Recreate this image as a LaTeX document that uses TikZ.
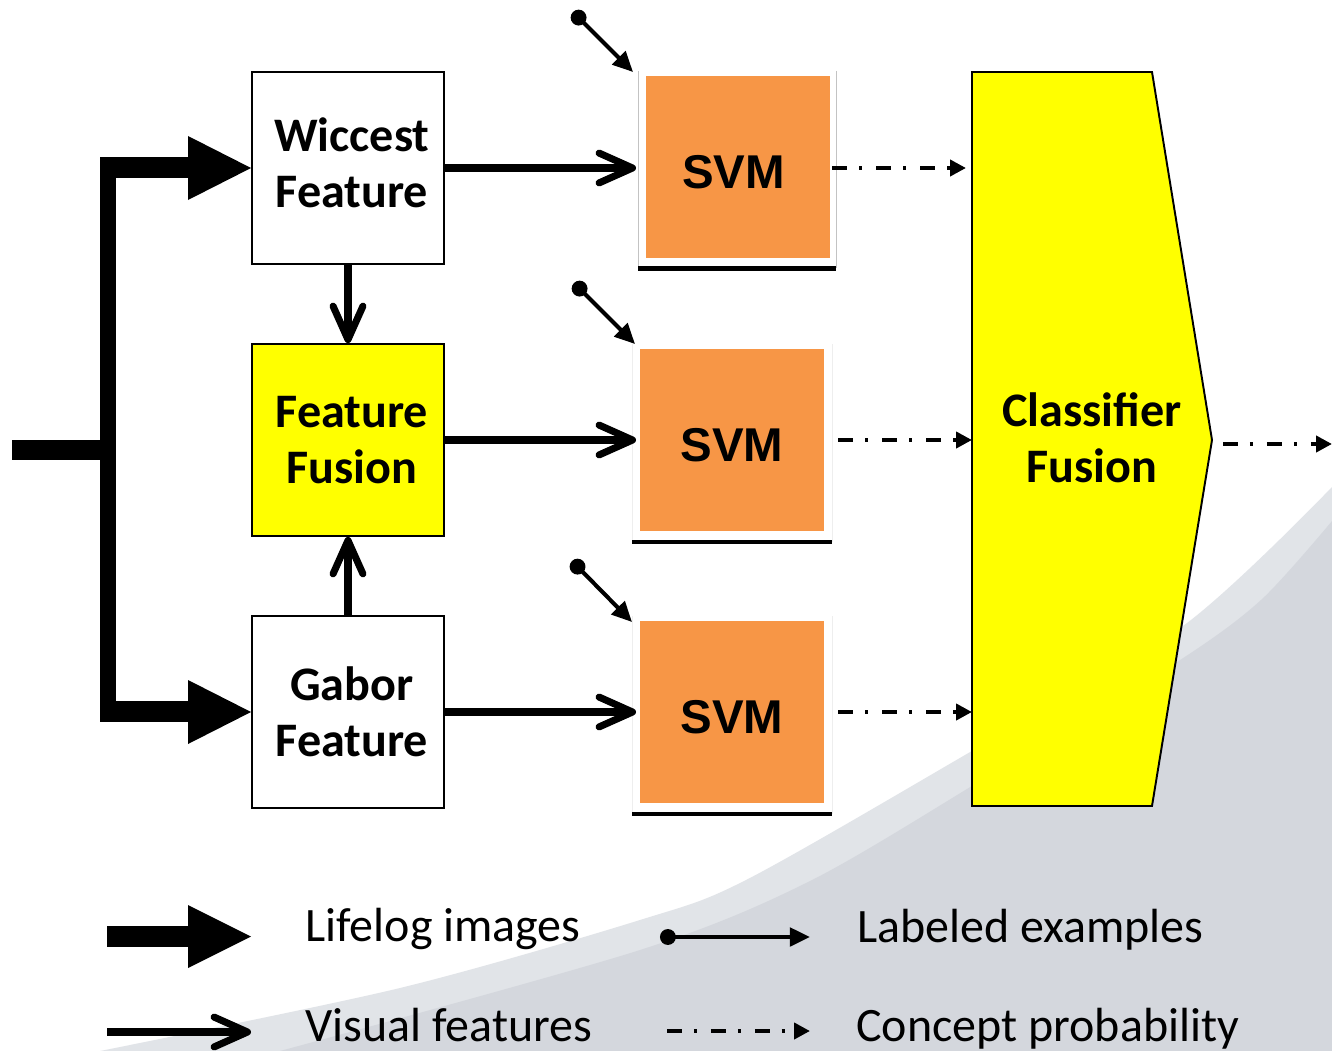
\documentclass[tikz,border=0pt]{standalone}
\usepackage{fontspec}
\setmainfont{Carlito}
\newfontfamily\svmfont{Liberation Sans}
\usetikzlibrary{arrows.meta,calc}
\definecolor{svmorange}{HTML}{F79646}
\definecolor{fusyellow}{HTML}{FFFF00}
\definecolor{bglight}{RGB}{225,228,232}
\definecolor{bgdark}{RGB}{212,215,221}
\definecolor{framegrey}{RGB}{195,195,195}
\definecolor{framefaint}{RGB}{238,238,238}
\newcommand\rsh{\hspace*{4.5pt}}
\begin{document}
\begin{tikzpicture}[x=0.02cm,y=-0.02cm,
  featbox/.style={draw=black, line width=1.1pt, minimum width=3.84cm, minimum height=3.84cm,
    inner sep=0pt, align=center, font=\fontsize{27.4}{32}\selectfont\bfseries},
  svmbox/.style={fill=svmorange, minimum width=3.68cm, minimum height=3.66cm, inner sep=0pt,
    text height=25pt, text depth=0pt,
    font=\svmfont\fontsize{27}{32}\selectfont\bfseries},
  boldtext/.style={align=center, inner sep=0pt, font=\fontsize{27.4}{32}\selectfont\bfseries},
  legtext/.style={inner sep=0pt, anchor=base west, font=\fontsize{27.3}{32}\selectfont},
  featarrow/.style={line width=4pt, -{Straight Barb[length=19pt,width=17pt,round]}},
  probarrow/.style={line width=2.3pt, dash pattern=on 8.5pt off 6.8pt on 1.7pt off 8pt,
    -{Triangle[length=9pt,width=9pt]}},
  labarrow/.style={line width=2.3pt, {Circle[length=9pt]}-{Triangle[length=11.5pt,width=10.5pt]}},
  underl/.style={line width=2.3pt}
]
\useasboundingbox (0,0) rectangle (1332,1051);
\fill[white] (0,0) rectangle (1332,1051);
% background swoosh
\fill[bglight] plot[smooth] coordinates {(100,1051) (400,988) (640,920) (746,880) (965,755) (1183,626) (1332,487)} -- (1332,1051) -- cycle;
\fill[bgdark] plot[smooth] coordinates {(280,1051) (640,950) (812,880) (995,772) (1177,662) (1261,600) (1332,521)} -- (1332,1051) -- cycle;

% feature boxes
\node[featbox, fill=white, text depth=6pt] (wic) at (348,168) {\rsh Wiccest\\\rsh Feature};
\node[featbox, fill=fusyellow] (fus) at (348,440) {\rsh Feature\\\rsh Fusion};
\node[featbox, fill=white] (gab) at (348,712) {\rsh Gabor\\\rsh Feature};

% SVM frames
\fill[white] (638,71) rectangle (836,268);
\draw[framegrey, line width=0.5pt] (638,71) -- (638,268) (836,71) -- (836,268);
\draw[underl] (638,268.5) -- (836,268.5);
\fill[white] (632,344) rectangle (832,542);
\draw[framefaint, line width=0.5pt] (632,344) -- (632,542) (832,344) -- (832,542);
\draw[underl] (632,542) -- (832,542);
\fill[white] (632,616) rectangle (832,814);
\draw[framefaint, line width=0.5pt] (632,616) -- (632,814) (832,616) -- (832,814);
\draw[underl] (632,814) -- (832,814);

% SVM boxes
\node[svmbox] (svm1) at (738,167) {\hspace*{-5pt}SVM};
\node[svmbox] (svm2) at (732,440) {SVM};
\node[svmbox] (svm3) at (732,712) {SVM};

% classifier fusion
\draw[fill=fusyellow, line width=1.1pt] (972,72) -- (1152,72) -- (1212,440) -- (1152,806) -- (972,806) -- cycle;
\node[boldtext] (clf) at (1092,438) {Classifier\\Fusion};
\coordinate (clftip) at (1212,440);

% input thick arrows
\coordinate (inp) at (12,450);
\fill (inp) ++(0,-10) rectangle (100,460);
\fill (100,157) rectangle (116,722);
\fill (100,157) rectangle (190,178);
\fill (188,136) -- (wic.west) -- (188,200) -- cycle;
\fill (100,701) rectangle (190,722);
\fill (188,680) -- (gab.west) -- (188,744) -- cycle;

% visual feature arrows
\coordinate (s1in) at (636,168);
\coordinate (s2in) at (636,440);
\coordinate (s3in) at (636,712);
\draw[featarrow] (wic.east) -- (s1in);
\draw[featarrow] (fus.east) -- (s2in);
\draw[featarrow] (gab.east) -- (s3in);
\draw[featarrow] (wic.south) -- (fus.north);
\draw[featarrow] (gab.north) -- (fus.south);

% labeled examples
\coordinate (l1) at (573,12);
\coordinate (l1e) at (633,72);
\coordinate (l2) at (574,283);
\coordinate (l2e) at (635,344);
\coordinate (l3) at (572,561);
\coordinate (l3e) at (632,622);
\draw[labarrow] (l1) -- (l1e);
\draw[labarrow] (l2) -- (l2e);
\draw[labarrow] (l3) -- (l3e);

% concept probability arrows
\coordinate (p1) at (966,168);
\coordinate (p2) at (972,440);
\coordinate (p3) at (972,712);
\coordinate (pout) at (1332,444);
\draw[probarrow] ($(svm1.east)+(2,1)$) -- (p1);
\draw[probarrow] ($(svm2.east)+(14,0)$) -- (p2);
\draw[probarrow] ($(svm3.east)+(14,0)$) -- (p3);
\draw[probarrow] ($(clftip)+(11,4)$) -- (pout);

% legend
\coordinate (lg1) at (107,936.5);
\fill (lg1) ++(0,-10.5) rectangle (190,947);
\fill (188,905) -- (251,936.5) -- (188,968) -- cycle;
\node[legtext] (t1) at (305,941.5) {Lifelog images};
\coordinate (lg2a) at (107,1032);
\coordinate (lg2b) at (251,1032);
\draw[featarrow] (lg2a) -- (lg2b);
\node[legtext] (t2) at (305,1041.5) {Visual features};
\coordinate (lg3a) at (660,937);
\coordinate (lg3b) at (810,937);
\draw[labarrow] (lg3a) -- (lg3b);
\node[legtext] (t3) at (857,942.5) {Labeled examples};
\coordinate (lg4a) at (667,1031);
\coordinate (lg4b) at (810,1031);
\draw[probarrow] (lg4a) -- (lg4b);
\node[legtext] (t4) at (856,1041) {Concept probability};
\end{tikzpicture}
\end{document}
